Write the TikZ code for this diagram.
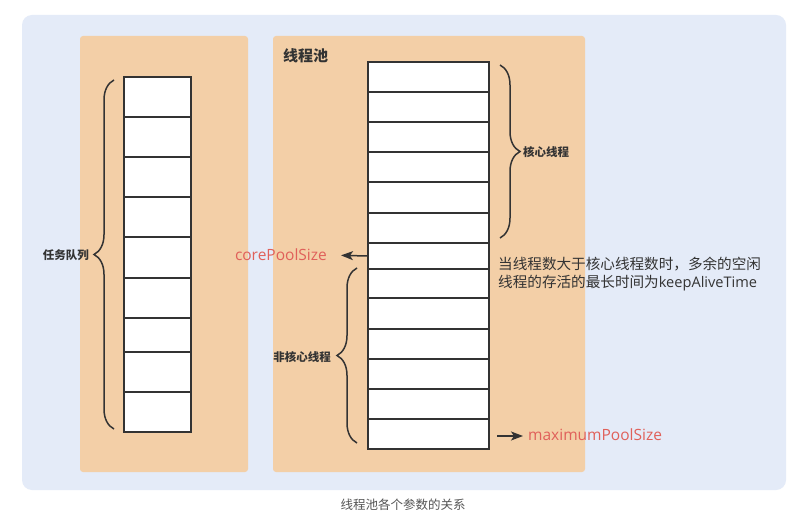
\documentclass[tikz,border=0pt]{standalone}
\usepackage{fontspec}
\setmainfont{Noto Sans CJK SC}
\newfontfamily\latinfont{Open Sans}
\usetikzlibrary{arrows.meta,decorations.pathreplacing}
\definecolor{bgblue}{HTML}{E4EBF8}
\definecolor{panelorange}{HTML}{F3CFA7}
\definecolor{darkline}{HTML}{333333}
\definecolor{redtext}{HTML}{E0605A}
\definecolor{bodytext}{HTML}{333333}
\definecolor{captiontext}{HTML}{555555}
\begin{document}
\begin{tikzpicture}[x=1pt,y=-1pt,
  cell/.style={draw=darkline, fill=white, line width=1.5pt, inner sep=0pt, rectangle},
  panel/.style={fill=panelorange, rounded corners=3pt},
  bracestyle/.style={draw=darkline, line width=1.5pt, decorate, decoration={brace, amplitude=20pt}},
  arrowstyle/.style={draw=darkline, line width=1.5pt, -{Stealth[length=12pt,width=9pt,inset=3pt]}},
  bracelabel/.style={font=\fontsize{11.5}{14}\selectfont\bfseries, text=bodytext, inner sep=0pt},
  redlabel/.style={font=\latinfont\fontsize{15.5}{18}\selectfont, text=redtext, inner sep=0pt}]
\useasboundingbox (0,0) rectangle (794,518);
\fill[white] (0,0) rectangle (794,518);
% background and panels
\fill[bgblue, rounded corners=10pt] (22,15) rectangle (786,490);
\fill[panel] (80,36) rectangle (248,472);
\fill[panel] (273,36) rectangle (585,472);
% left queue column
\foreach \i/\a/\b in {1/77/117,2/117/157,3/157/197,4/197/237,5/237/278,6/278/318,7/318/352,8/352/392,9/392/432}{
  \pgfmathsetmacro\h{\b-\a}
  \pgfmathsetmacro\c{(\a+\b)/2}
  \node[cell, minimum width=67pt, minimum height=\h pt] (L\i) at (157.5,\c) {};
}
% right thread column
\foreach \i/\a/\b in {1/62/92,2/92/122,3/122/152,4/152/182,5/182/213,6/213/243,7/243/269,8/269/298,9/298/329,10/329/359,11/359/389,12/389/419,13/419/449}{
  \pgfmathsetmacro\h{\b-\a}
  \pgfmathsetmacro\c{(\a+\b)/2}
  \node[cell, minimum width=121pt, minimum height=\h pt] (R\i) at (428.5,\c) {};
}
% title
\node[anchor=west, inner sep=0pt, font=\fontsize{15}{18}\selectfont\bfseries, text=bodytext] (title) at (283,56) {线程池};
% braces
\coordinate (qb) at (114,429);
\coordinate (qt) at (114,80);
\draw[bracestyle] (qb) -- (qt);
\node[bracelabel, anchor=east] (qlabel) at (89,255) {任务队列};
\coordinate (ct) at (500,65);
\coordinate (cb) at (500,238);
\draw[bracestyle] (ct) -- (cb);
\node[bracelabel, anchor=west] (clabel) at (523,152) {核心线程};
\coordinate (nb) at (357,443);
\coordinate (nt) at (357,268);
\draw[bracestyle] (nb) -- (nt);
\node[bracelabel, anchor=east] (nlabel) at (331,357) {非核心线程};
% corePoolSize
\node[redlabel, anchor=east] (cps) at (327,255) {corePoolSize};
\draw[arrowstyle, shorten >=14pt] (R7.west) -- (cps.east);
% maximumPoolSize
\node[redlabel, anchor=west] (mps) at (528,435) {maximumPoolSize};
\coordinate (mstart) at (497,436);
\draw[arrowstyle, shorten >=5pt] (mstart) -- (mps.west |- mstart);
% description
\node[anchor=north west, inner sep=0pt, align=left, text=bodytext, font=\fontsize{14.6}{18}\selectfont] (desc) at (498,257) {当线程数大于核心线程数时，多余的空闲\\线程的存活的最长时间为{\latinfont keepAliveTime}};
% caption
\node[inner sep=0pt, text=captiontext, font=\fontsize{12.5}{15}\selectfont] (caption) at (403,505) {线程池各个参数的关系};
\end{tikzpicture}
\end{document}
